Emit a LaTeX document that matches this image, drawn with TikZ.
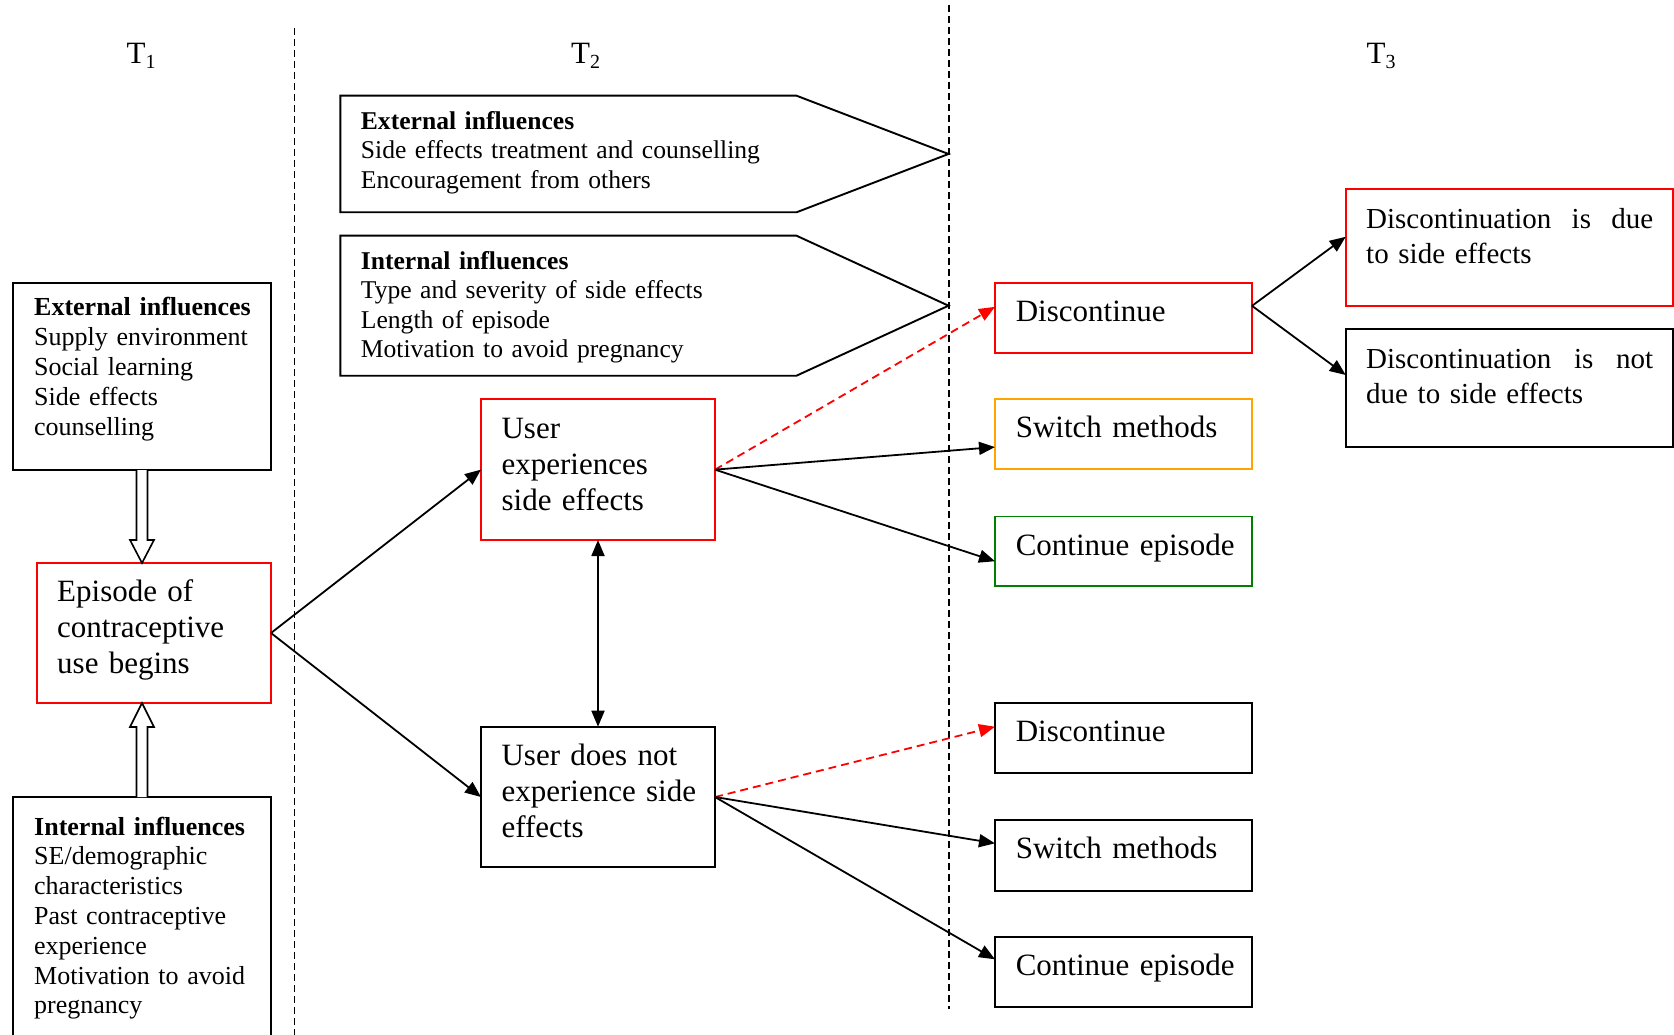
\documentclass[tikz,border=0pt]{standalone}
\usepackage{fontspec}
\setmainfont{Liberation Serif}
\usetikzlibrary{arrows.meta,calc}
\definecolor{rd}{RGB}{255,0,0}
\definecolor{org}{RGB}{255,165,0}
\definecolor{grn}{RGB}{0,128,0}
\newcommand\fbig{\fontsize{31}{36}\selectfont}
\newcommand\fsml{\fontsize{26}{29.8}\selectfont}
\newcommand\fsmlb{\fontsize{25.6}{29.4}\selectfont}
\newcommand\fmed{\fontsize{29}{35.5}\selectfont}
\newcommand\tsub[1]{T\raisebox{-5pt}{\fontsize{20}{20}\selectfont #1}}
\begin{document}
\begin{tikzpicture}[x=1pt,y=-1pt,
  boxst/.style={draw, line width=1.9pt, anchor=north west, inner sep=0pt, outer sep=0pt},
  txt/.style={anchor=base west, inner sep=0pt, align=left, text width=#1},
  txt/.default=240pt,
  tip/.style={},
  conn/.style={line width=1.8pt, -{Triangle[length=16pt,width=13pt]}},
  dconn/.style={line width=1.8pt, rd, dash pattern=on 8pt off 5pt, -{Triangle[length=16pt,width=13pt]}},
  sep/.style={line width=1.4pt, dash pattern=on 7pt off 4pt},
  hollow/.style={line width=1.6pt, fill=white, line join=miter},
  pent/.style={line width=1.9pt, line join=miter}
]
\useasboundingbox (0,0) rectangle (1674,1035);
\fill[white] (0,0) rectangle (1674,1035);

% time labels
\node[anchor=base west, inner sep=0pt, font=\fbig] (t1) at (126.5,63.3) {\tsub{1}};
\node[anchor=base west, inner sep=0pt, font=\fbig] (t2) at (571,63.3) {\tsub{2}};
\node[anchor=base west, inner sep=0pt, font=\fbig] (t3) at (1366.5,63.3) {\tsub{3}};

% separators
\coordinate (s1a) at (294.7,28);
\coordinate (s1b) at (294.7,1040);
\coordinate (s2a) at (949,5);
\coordinate (s2b) at (949,1009);
\draw[sep] (s1a) -- (s1b);
\draw[sep] (s2a) -- (s2b);

% T1 column
\node[boxst, minimum width=258pt, minimum height=187pt] (ext1) at (13,283) {};
\node[txt=235pt, font=\fsml] (ext1t) at (34,316) {\textbf{External influences}\\Supply environment\\Social learning\\Side effects\\counselling};

\node[boxst, rd, minimum width=234pt, minimum height=140pt] (epi) at (37,563) {};
\node[txt=212pt, font=\fbig] (epit) at (57,601) {Episode of\\contraceptive\\use begins};

\node[boxst, minimum width=258pt, minimum height=260pt] (int1) at (13,797) {};
\node[txt=235pt, font=\fsml] (int1t) at (34,835) {\textbf{Internal influences}\\SE/demographic\\characteristics\\Past contraceptive\\experience\\Motivation to avoid\\pregnancy};

% hollow arrows
\coordinate (ha) at (ext1.south |- epi.north);
\draw[hollow] ([xshift=-5.5pt]ext1.south) -- ($(ha)+(-5.5pt,23pt)$) -- ($(ha)+(-12pt,23pt)$) -- (ha) -- ($(ha)+(12pt,23pt)$) -- ($(ha)+(5.5pt,23pt)$) -- ([xshift=5.5pt]ext1.south);
\coordinate (hb) at (int1.north |- epi.south);
\draw[hollow] ([xshift=-5.5pt]int1.north) -- ($(hb)+(-5.5pt,-24pt)$) -- ($(hb)+(-12pt,-24pt)$) -- (hb) -- ($(hb)+(12pt,-24pt)$) -- ($(hb)+(5.5pt,-24pt)$) -- ([xshift=5.5pt]int1.north);

% T2 influence arrows
\draw[pent] (340.3,95.7) -- (796.5,95.7) -- (948.5,154) -- (796.5,212.3) -- (340.3,212.3) -- cycle;
\node[txt=430pt, font=\fsmlb] (ext2t) at (360.7,129.3) {\textbf{External influences}\\Side effects treatment and counselling\\Encouragement from others};
\draw[pent] (340.3,235.7) -- (796.5,235.7) -- (948.5,305.7) -- (796.5,375.7) -- (340.3,375.7) -- cycle;
\node[txt=430pt, font=\fsmlb] (int2t) at (360.7,269.3) {\textbf{Internal influences}\\Type and severity of side effects\\Length of episode\\Motivation to avoid pregnancy};

% T2 boxes
\node[boxst, rd, minimum width=234pt, minimum height=140.7pt] (uexp) at (481,399.3) {};
\node[txt=212pt, font=\fbig] (uexpt) at (501.4,438.3) {User\\experiences\\side effects};
\node[boxst, minimum width=234pt, minimum height=140.6pt] (unot) at (481,726.7) {};
\node[txt=212pt, font=\fbig] (unott) at (501.4,765) {User does not\\experience side\\effects};

% T3 boxes
\node[boxst, rd, minimum width=257pt, minimum height=70.3pt] (dis1) at (995,282.7) {};
\node[txt, font=\fbig] (dis1t) at (1015.6,321.5) {Discontinue};
\node[boxst, org, minimum width=257pt, minimum height=69.5pt] (sw1) at (995,399.3) {};
\node[txt, font=\fbig] (sw1t) at (1015.6,437.6) {Switch methods};
\node[boxst, grn, minimum width=257pt, minimum height=69.5pt] (co1) at (995,516.5) {};
\node[txt, font=\fbig] (co1t) at (1015.6,555) {Continue episode};

\node[boxst, minimum width=257pt, minimum height=70pt] (dis2) at (995,703.3) {};
\node[txt, font=\fbig] (dis2t) at (1015.6,741.8) {Discontinue};
\node[boxst, minimum width=257pt, minimum height=70.7pt] (sw2) at (995,820) {};
\node[txt, font=\fbig] (sw2t) at (1015.6,858.7) {Switch methods};
\node[boxst, minimum width=257pt, minimum height=70.6pt] (co2) at (995,936.7) {};
\node[txt, font=\fbig] (co2t) at (1015.6,975.4) {Continue episode};

\node[boxst, rd, minimum width=327pt, minimum height=117pt] (due) at (1345.7,189.3) {};
\node[txt=287pt, font=\fmed] (duet) at (1366,228.3) {Discontinuation\hfill is\hfill due\\to side effects};
\node[boxst, minimum width=327pt, minimum height=117.4pt] (notdue) at (1345.7,329.3) {};
\node[txt=287pt, font=\fmed] (notduet) at (1366,368.3) {Discontinuation\hfill is\hfill not\\due to side effects};

% connectors
\draw[conn] (epi.east) -- (uexp.west);
\draw[conn] (epi.east) -- (unot.west);
\draw[{Triangle[length=16pt,width=13pt]}-{Triangle[length=16pt,width=13pt]}, line width=1.8pt] (uexp.south) -- (unot.north);

\draw[dconn] (uexp.east) -- ([yshift=11pt]dis1.west);
\draw[conn] (uexp.east) -- ([yshift=-13pt]sw1.west);
\draw[conn] (uexp.east) -- ([yshift=-10pt]co1.west);

\draw[dconn] (unot.east) -- ([yshift=11.6pt]dis2.west);
\draw[conn] (unot.east) -- ([yshift=12pt]sw2.west);
\draw[conn] (unot.east) -- ([yshift=12.7pt]co2.west);

\draw[conn] ([yshift=12pt]dis1.east) -- ([yshift=11pt]due.west);
\draw[conn] ([yshift=12pt]dis1.east) -- ([yshift=13pt]notdue.west);
\end{tikzpicture}
\end{document}
